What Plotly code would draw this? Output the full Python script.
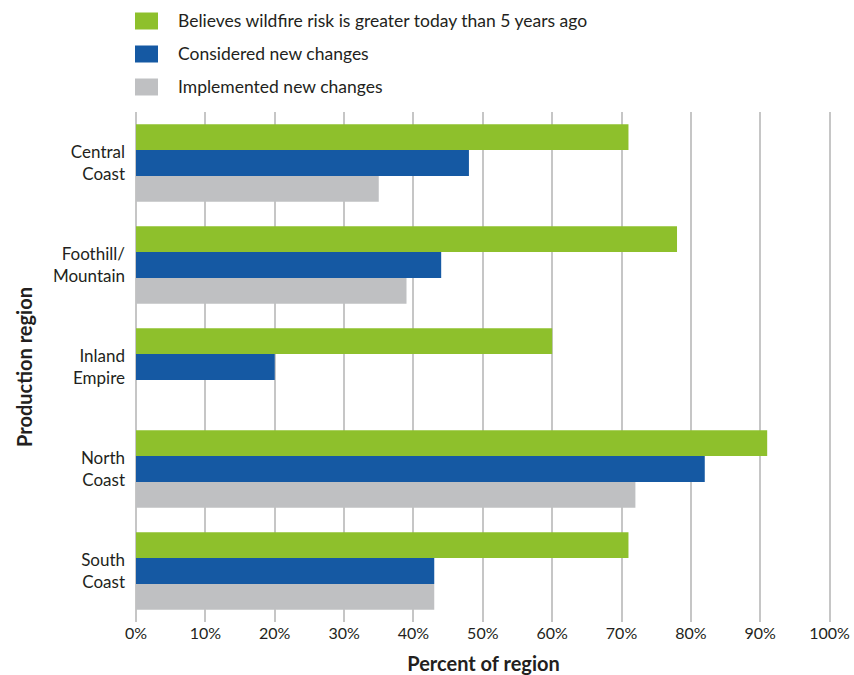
import plotly.graph_objects as go

# ---- data ----
regions = ["Central<br>Coast", "Foothill/<br>Mountain", "Inland<br>Empire", "North<br>Coast", "South<br>Coast"]
series_names = [
    "Believes wildfire risk is greater today than 5 years ago",
    "Considered new changes",
    "Implemented new changes",
]
believes_risk = [71, 78, 60, 91, 71]
considered = [48, 44, 20, 82, 43]
implemented = [35, 39, None, 72, 43]
x_ticks = list(range(0, 101, 10))
x_tick_labels = [f"{v}%" for v in x_ticks]

colors = ["#8EC02C", "#1559A3", "#BFC0C2"]

W, H = 854, 675
ML, MR, MT, MB = 136, 23, 112, 53
plot_w = W - ML - MR
plot_h = H - MT - MB
FONT = "Lato"

fig = go.Figure()
for name, vals, col in zip(series_names, [believes_risk, considered, implemented], colors):
    fig.add_trace(go.Bar(
        y=regions, x=vals, name=name, orientation="h",
        marker=dict(color=col, line=dict(width=0)),
        showlegend=False,
    ))

# manual legend (boxes + labels) placed above the plot
def px_to_paper_x(px):
    return (px - ML) / plot_w

def px_to_paper_y(py):
    return 1 - (py - MT) / plot_h

shapes = []
annotations = []
for i, (name, col) in enumerate(zip(series_names, colors)):
    cy = 21 + 33 * i
    shapes.append(dict(
        type="rect", xref="paper", yref="paper",
        x0=px_to_paper_x(135), x1=px_to_paper_x(158),
        y0=px_to_paper_y(cy + 8.5), y1=px_to_paper_y(cy - 8.5),
        fillcolor=col, line=dict(width=0),
    ))
    annotations.append(dict(
        xref="paper", yref="paper",
        x=px_to_paper_x(176), y=px_to_paper_y(cy),
        xanchor="left", yanchor="middle", showarrow=False,
        text=name, font=dict(family=FONT, size=17.5, color="#231F20"),
    ))

fig.update_layout(
    width=W, height=H,
    margin=dict(l=ML, r=MR, t=MT, b=MB, autoexpand=False),
    paper_bgcolor="white", plot_bgcolor="white",
    barmode="group", bargap=0.24, bargroupgap=0,
    font=dict(family=FONT, size=17, color="#231F20"),
    shapes=shapes, annotations=annotations,
    xaxis=dict(
        range=[0, 100.2], tickmode="array", tickvals=x_ticks, ticktext=x_tick_labels,
        showgrid=True, gridcolor="#C6C6C6", gridwidth=1.5,
        zeroline=True, zerolinecolor="#C6C6C6", zerolinewidth=1.5,
        showline=False, ticks="", tickfont=dict(size=16), automargin=False,
        title=dict(text="<b>Percent of region</b>", font=dict(size=20), standoff=16),
        fixedrange=True,
    ),
    yaxis=dict(
        autorange="reversed", showgrid=False, zeroline=False, showline=False,
        ticks="", ticklabelstandoff=10, tickfont=dict(size=17), automargin=False,
        title=dict(text="<b>Production region</b>", font=dict(size=20), standoff=14),
    ),
)

fig.write_html("out.html")
